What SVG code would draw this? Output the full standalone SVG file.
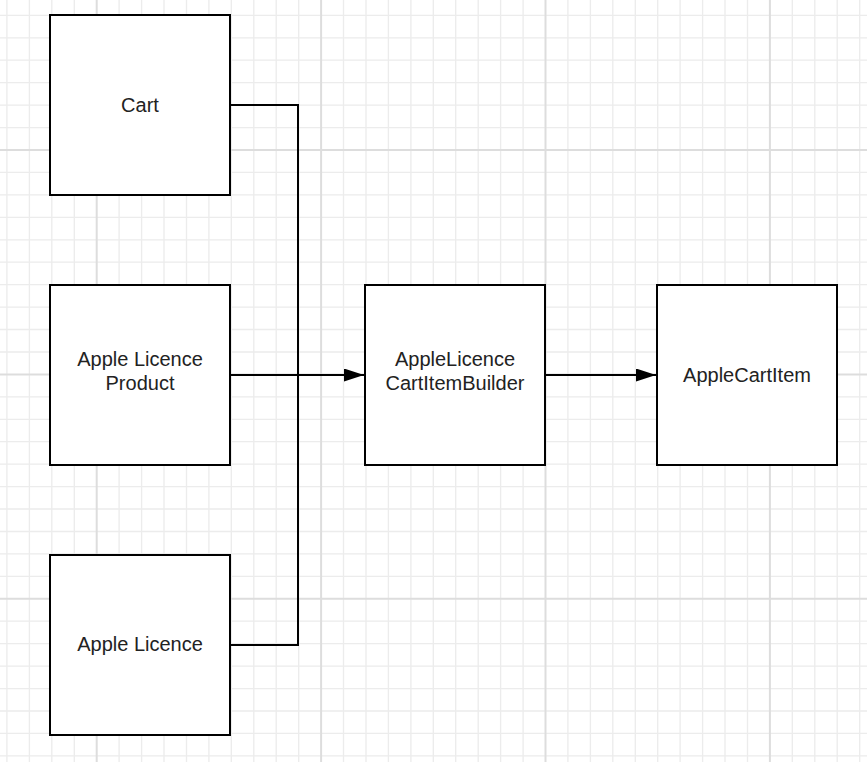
<svg xmlns="http://www.w3.org/2000/svg" width="867" height="762" viewBox="0 0 867 762">
<style>
.minor{stroke:#ececec;stroke-width:1.3;fill:none}
.major{stroke:#dddddd;stroke-width:2;fill:none}
.box{fill:#ffffff;stroke:#000000;stroke-width:2}
.lbl{font-family:"Liberation Sans",Arial,sans-serif;font-size:20px;fill:#222222;text-anchor:middle}
.conn{fill:none;stroke:#000000;stroke-width:2}
</style>
<defs>
<marker id="arrow" markerUnits="userSpaceOnUse" markerWidth="20" markerHeight="13" refX="20" refY="6.5" orient="auto">
<path d="M0,0 L20,6.5 L0,13 Z" fill="#000000"/>
</marker>
</defs>
<rect x="0" y="0" width="867" height="762" fill="#ffffff"/>
<g id="grid">
<path class="minor" d="M6.9,0V762M29.4,0V762M51.8,0V762M74.3,0V762M119.1,0V762M141.6,0V762M164,0V762M186.5,0V762M208.9,0V762M231.3,0V762M253.8,0V762M276.2,0V762M298.7,0V762M343.5,0V762M366,0V762M388.4,0V762M410.9,0V762M433.3,0V762M455.7,0V762M478.2,0V762M500.6,0V762M523.1,0V762M567.9,0V762M590.4,0V762M612.8,0V762M635.3,0V762M657.7,0V762M680.1,0V762M702.6,0V762M725,0V762M747.5,0V762M792.3,0V762M814.8,0V762M837.2,0V762M859.7,0V762
M0,15.4H867M0,37.8H867M0,60.2H867M0,82.7H867M0,105.1H867M0,127.6H867M0,172.4H867M0,194.9H867M0,217.3H867M0,239.8H867M0,262.2H867M0,284.6H867M0,307.1H867M0,329.5H867M0,352H867M0,396.8H867M0,419.3H867M0,441.7H867M0,464.2H867M0,486.6H867M0,509H867M0,531.5H867M0,553.9H867M0,576.4H867M0,621.2H867M0,643.7H867M0,666.1H867M0,688.6H867M0,711H867M0,733.4H867M0,755.9H867"/>
<path class="major" d="M96.7,0V762M321.1,0V762M545.5,0V762M769.9,0V762M0,150H867M0,374.4H867M0,598.8H867"/>
</g>
<g id="connectors">
<path class="conn" d="M230,105H298V645H230"/>
<path class="conn" d="M230,375H364" marker-end="url(#arrow)"/>
<path class="conn" d="M545,375H656" marker-end="url(#arrow)"/>
</g>
<g id="node-cart">
<rect class="box" x="50" y="15" width="180" height="180"/>
<text class="lbl" x="140" y="112">Cart</text>
</g>
<g id="node-apple-licence-product">
<rect class="box" x="50" y="285" width="180" height="180"/>
<text class="lbl" x="140" y="366">Apple Licence</text>
<text class="lbl" x="140" y="389.5">Product</text>
</g>
<g id="node-apple-licence">
<rect class="box" x="50" y="555" width="180" height="180"/>
<text class="lbl" x="140" y="651">Apple Licence</text>
</g>
<g id="node-builder">
<rect class="box" x="365" y="285" width="180" height="180"/>
<text class="lbl" x="455" y="366">AppleLicence</text>
<text class="lbl" x="455" y="389.5">CartItemBuilder</text>
</g>
<g id="node-apple-cart-item">
<rect class="box" x="657" y="285" width="180" height="180"/>
<text class="lbl" x="747" y="382">AppleCartItem</text>
</g>
</svg>
